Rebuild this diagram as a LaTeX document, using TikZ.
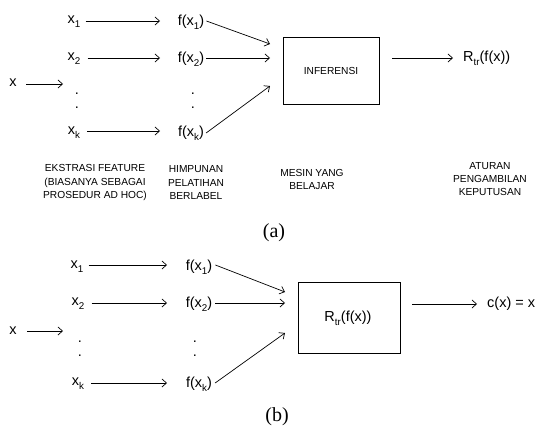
\documentclass[tikz,border=0pt]{standalone}
\usepackage{fontspec}
\usetikzlibrary{arrows.meta}
\setmainfont{Liberation Sans}
\newfontfamily\capfont{Liberation Serif}
\newcommand\lowsub[1]{\raisebox{-0.5ex}{\fontsize{9.8}{10}\selectfont #1}}
\begin{document}
\begin{tikzpicture}[x=1pt,y=-1pt,
  lbl/.style={inner sep=0pt,font=\fontsize{14.5}{15}\selectfont},
  dotmark/.style={inner sep=0pt,anchor=base,font=\fontsize{14.5}{15}\selectfont},
  note/.style={inner sep=0pt,align=center,font=\fontsize{10.2}{13.4}\selectfont},
  captxt/.style={inner sep=0pt,font=\capfont\fontsize{20}{20}\selectfont},
  blk/.style={draw,line width=0.9pt,inner sep=0pt},
  arr/.style={-{Straight Barb[length=4.5pt,width=8pt]},line width=0.7pt}]
\useasboundingbox (0,0) rectangle (545,428);

% ---------- (a) training ----------
\node[lbl] (ax)  at (13,83)  {x};
\coordinate (axe) at (63,84);
\node[lbl] (ax1) at (74,22)  {x\lowsub{1}};
\node[lbl] (ax2) at (74,59)  {x\lowsub{2}};
\node[dotmark] (axd1) at (77,94)  {.};
\node[dotmark] (axd2) at (77,108) {.};
\node[lbl] (axk) at (74,133) {x\lowsub{k}};
\node[lbl] (af1) at (191,22)  {f(x\lowsub{1})};
\node[lbl] (af2) at (191,59)  {f(x\lowsub{2})};
\node[dotmark] (afd1) at (193,94)  {.};
\node[dotmark] (afd2) at (193,108) {.};
\node[lbl] (afk) at (191,133) {f(x\lowsub{k})};
\node[blk,minimum width=96pt,minimum height=67pt] (boxa) at (331,70.5) {};
\node[inner sep=0pt,font=\fontsize{10.2}{12}\selectfont] (inf) at (331,70.5) {INFERENSI};
\node[lbl,anchor=west] (rtr) at (463,58) {R\lowsub{tr}(f(x))};
\coordinate (ta1) at (270,44);
\coordinate (ta2) at (270,58);
\coordinate (ta3) at (270,86);
\coordinate (oa) at (392,58);
\coordinate (oae) at (453,58);

\draw[arr] (ax) ++(13,1) -- (axe);
\draw[arr] (ax1.east) ++(5,-1) -- (160,21);
\draw[arr] (ax2.east) ++(7,-1) -- (160,58);
\draw[arr] (axk.east) ++(7,-2) -- (160,131);
\draw[arr] (af1.east) ++(2,-1) -- (ta1);
\draw[arr] (af2.east) ++(2,-1) -- (ta2);
\draw[arr] (afk.east) ++(2,0) -- (ta3);
\draw[arr] (oa) -- (oae);

\node[note] (na1) at (95,182.5)  {EKSTRASI FEATURE\\(BIASANYA SEBAGAI\\PROSEDUR AD HOC)};
\node[note] (na2) at (196,182.5) {HIMPUNAN\\PELATIHAN\\BERLABEL};
\node[note] (na3) at (312,179.5) {MESIN YANG\\BELAJAR};
\node[note] (na4) at (490,179)   {ATURAN\\PENGAMBILAN\\KEPUTUSAN};
\node[captxt] (capa) at (274,233) {(a)};

% ---------- (b) classification ----------
\node[lbl] (bx)  at (13,331)  {x};
\coordinate (bxe) at (63,331);
\node[lbl] (bx1) at (77,267)  {x\lowsub{1}};
\node[lbl] (bx2) at (78,304)  {x\lowsub{2}};
\node[dotmark] (bxd1) at (80,342) {.};
\node[dotmark] (bxd2) at (80,356) {.};
\node[lbl] (bxk) at (78,384)  {x\lowsub{k}};
\node[lbl] (bf1) at (199,267) {f(x\lowsub{1})};
\node[lbl] (bf2) at (199,304) {f(x\lowsub{2})};
\node[dotmark] (bfd1) at (195,342) {.};
\node[dotmark] (bfd2) at (195,356) {.};
\node[lbl] (bfk) at (199,384) {f(x\lowsub{k})};
\node[blk,minimum width=102pt,minimum height=71pt] (boxb) at (349,317.5) {};
\node[lbl] (rb) at (348,318) {R\lowsub{tr}(f(x))};
\node[lbl,anchor=west] (cx) at (487,304) {c(x) = x};
\coordinate (tb1) at (285,292);
\coordinate (tb2) at (285,303);
\coordinate (tb3) at (285,333);
\coordinate (ob) at (412,304);
\coordinate (obe) at (477,304);

\draw[arr] (bx) ++(14,0) -- (bxe);
\draw[arr] (bx1.east) ++(5,-2) -- (167,265);
\draw[arr] (bx2.east) ++(7,-1) -- (167,303);
\draw[arr] (bxk.east) ++(7,-1) -- (167,383);
\draw[arr] (bf1.east) ++(3,-2) -- (tb1);
\draw[arr] (bf2.east) ++(3,-1) -- (tb2);
\draw[arr] (bfk.east) ++(3,-1) -- (tb3);
\draw[arr] (ob) -- (obe);
\node[captxt] (capb) at (277,417) {(b)};
\end{tikzpicture}
\end{document}
